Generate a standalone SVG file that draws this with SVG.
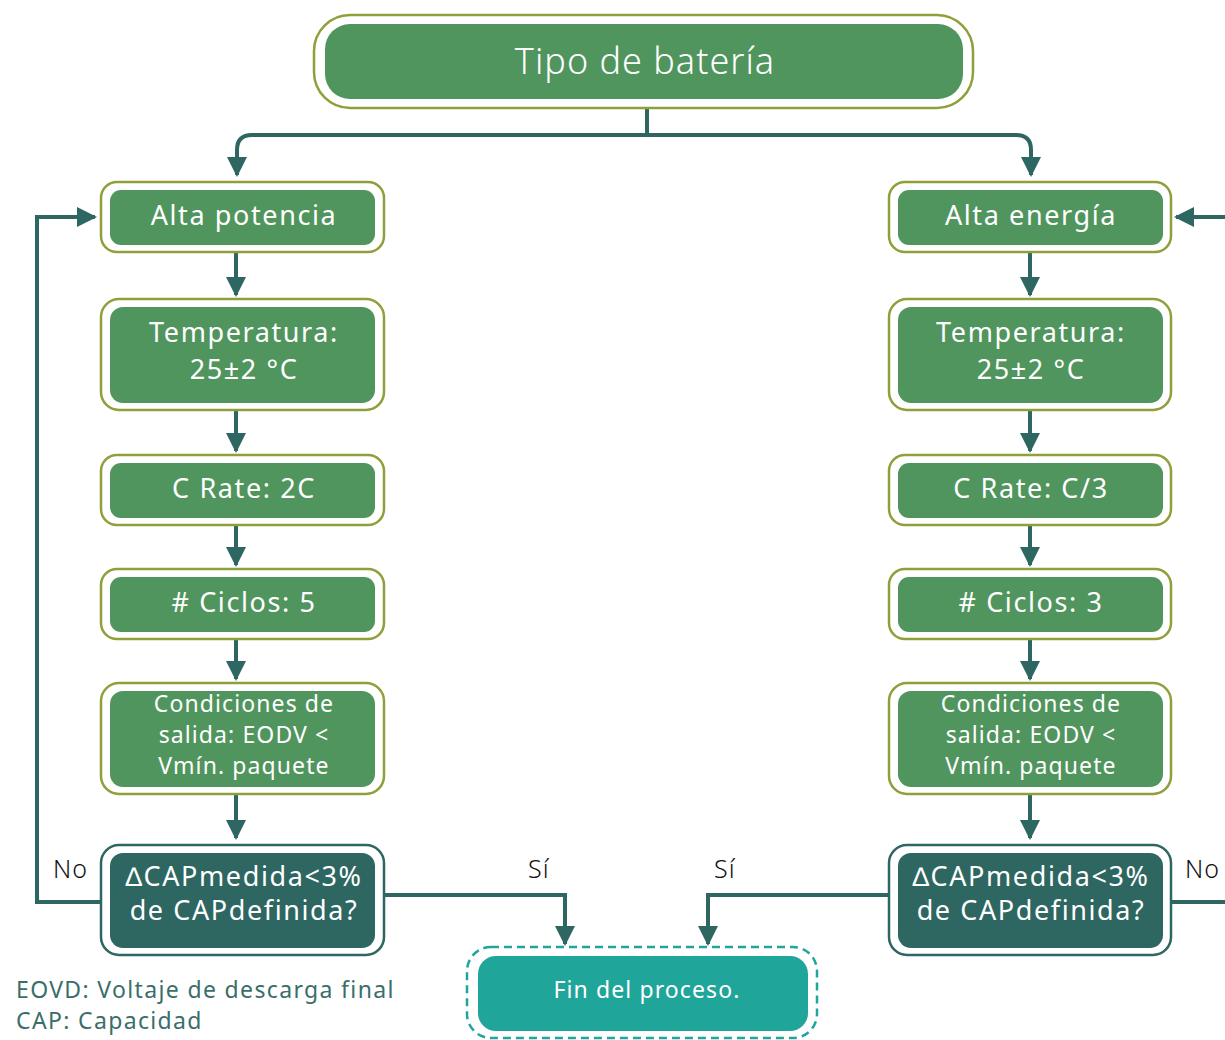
<svg xmlns="http://www.w3.org/2000/svg" width="1225" height="1040" viewBox="0 0 1225 1040">
<style>
.outer{fill:#fff;stroke:#8fa03a;stroke-width:2.5}
.inner{fill:#51955e}
.dout{fill:#fff;stroke:#2e6661;stroke-width:2.5}
.dinner{fill:#2e6661}
.t{font-family:"Noto Sans",sans-serif;fill:#fff;text-anchor:middle;letter-spacing:1.6px}
.s{letter-spacing:1.1px}
.lbl{font-family:"Noto Sans",sans-serif;fill:#111;font-size:25px;font-weight:300;letter-spacing:1px}
.leg{font-family:"Noto Sans",sans-serif;fill:#3a6e6a;font-size:23px;letter-spacing:1.35px}
.c{fill:none;stroke:#2e6661;stroke-width:4}
</style>
<defs>
<marker id="ah" viewBox="0 0 10 10" refX="9" refY="5" markerWidth="5" markerHeight="5" markerUnits="strokeWidth" orient="auto"><path d="M0,0 L10,5 L0,10 z" fill="#2e6661"/></marker>
</defs>
<rect width="1225" height="1040" fill="#fff"/>
<g id="connectors">
<path class="c" d="M647,108 V135"/>
<path class="c" d="M647,135 H252 Q237,135 237,150 V175" marker-end="url(#ah)"/>
<path class="c" d="M647,135 H1016 Q1031,135 1031,150 V175" marker-end="url(#ah)"/>
<path class="c" d="M236,253 V295" marker-end="url(#ah)"/>
<path class="c" d="M236,411 V451" marker-end="url(#ah)"/>
<path class="c" d="M236,526 V565" marker-end="url(#ah)"/>
<path class="c" d="M236,640 V679" marker-end="url(#ah)"/>
<path class="c" d="M236,795 V838" marker-end="url(#ah)"/>
<path class="c" d="M1030,253 V295" marker-end="url(#ah)"/>
<path class="c" d="M1030,411 V451" marker-end="url(#ah)"/>
<path class="c" d="M1030,526 V565" marker-end="url(#ah)"/>
<path class="c" d="M1030,640 V679" marker-end="url(#ah)"/>
<path class="c" d="M1030,795 V838" marker-end="url(#ah)"/>
<path class="c" d="M101,902 H37 V217 H95" marker-end="url(#ah)"/>
<path class="c" d="M1171,902 H1230"/>
<path class="c" d="M1230,217 H1176" marker-end="url(#ah)"/>
<path class="c" d="M384,895 H565 V944" marker-end="url(#ah)"/>
<path class="c" d="M889,895 H708 V944" marker-end="url(#ah)"/>
</g>
<g id="n-tipo">
<rect class="outer" x="314" y="15" width="659" height="93" rx="36"/>
<rect class="inner" x="325" y="24" width="638" height="75" rx="25"/>
<text class="t" x="645" y="74" font-size="36" font-weight="300" style="letter-spacing:1px">Tipo de batería</text>
</g>
<g id="n-alta-potencia">
<rect class="outer" x="101" y="182" width="283" height="70" rx="16"/>
<rect class="inner" x="110" y="190" width="265" height="55" rx="11"/>
<text class="t" x="244" y="225" font-size="27">Alta potencia</text>
</g>
<g id="n-temp-l">
<rect class="outer" x="101" y="299" width="283" height="111" rx="18"/>
<rect class="inner" x="110" y="307" width="265" height="96" rx="13"/>
<text class="t" x="244" y="342" font-size="27">Temperatura:</text>
<text class="t" x="244" y="379" font-size="27">25±2 °C</text>
</g>
<g id="n-crate-l">
<rect class="outer" x="101" y="455" width="283" height="70" rx="16"/>
<rect class="inner" x="110" y="463" width="265" height="55" rx="11"/>
<text class="t" x="244" y="498" font-size="27">C Rate: 2C</text>
</g>
<g id="n-ciclos-l">
<rect class="outer" x="101" y="569" width="283" height="70" rx="16"/>
<rect class="inner" x="110" y="577" width="265" height="55" rx="11"/>
<text class="t" x="244" y="612" font-size="27"># Ciclos: 5</text>
</g>
<g id="n-cond-l">
<rect class="outer" x="101" y="683" width="283" height="111" rx="18"/>
<rect class="inner" x="110" y="691" width="265" height="96" rx="13"/>
<text class="t s" x="244" y="712" font-size="23">Condiciones de</text>
<text class="t s" x="244" y="743" font-size="23">salida: EODV &lt;</text>
<text class="t s" x="244" y="774" font-size="23">Vmín. paquete</text>
</g>
<g id="n-dec-l">
<rect class="dout" x="101" y="845" width="283" height="110" rx="18"/>
<rect class="dinner" x="110" y="853" width="265" height="95" rx="13"/>
<text class="t" x="244" y="886" font-size="27">∆CAPmedida&lt;3%</text>
<text class="t" x="244" y="920" font-size="27">de CAPdefinida?</text>
</g>
<g id="n-alta-energia">
<rect class="outer" x="889" y="182" width="282" height="70" rx="16"/>
<rect class="inner" x="898" y="190" width="265" height="55" rx="11"/>
<text class="t" x="1031" y="225" font-size="27">Alta energía</text>
</g>
<g id="n-temp-r">
<rect class="outer" x="889" y="299" width="282" height="111" rx="18"/>
<rect class="inner" x="898" y="307" width="265" height="96" rx="13"/>
<text class="t" x="1031" y="342" font-size="27">Temperatura:</text>
<text class="t" x="1031" y="379" font-size="27">25±2 °C</text>
</g>
<g id="n-crate-r">
<rect class="outer" x="889" y="455" width="282" height="70" rx="16"/>
<rect class="inner" x="898" y="463" width="265" height="55" rx="11"/>
<text class="t" x="1031" y="498" font-size="27">C Rate: C/3</text>
</g>
<g id="n-ciclos-r">
<rect class="outer" x="889" y="569" width="282" height="70" rx="16"/>
<rect class="inner" x="898" y="577" width="265" height="55" rx="11"/>
<text class="t" x="1031" y="612" font-size="27"># Ciclos: 3</text>
</g>
<g id="n-cond-r">
<rect class="outer" x="889" y="683" width="282" height="111" rx="18"/>
<rect class="inner" x="898" y="691" width="265" height="96" rx="13"/>
<text class="t s" x="1031" y="712" font-size="23">Condiciones de</text>
<text class="t s" x="1031" y="743" font-size="23">salida: EODV &lt;</text>
<text class="t s" x="1031" y="774" font-size="23">Vmín. paquete</text>
</g>
<g id="n-dec-r">
<rect class="dout" x="889" y="845" width="282" height="110" rx="18"/>
<rect class="dinner" x="898" y="853" width="265" height="95" rx="13"/>
<text class="t" x="1031" y="886" font-size="27">∆CAPmedida&lt;3%</text>
<text class="t" x="1031" y="920" font-size="27">de CAPdefinida?</text>
</g>
<g id="n-fin">
<rect x="467" y="947" width="350" height="91" rx="24" fill="#fff" stroke="#20a59a" stroke-width="2.5" stroke-dasharray="8,5"/>
<rect x="478" y="956" width="330" height="75" rx="18" fill="#20a59a"/>
<text class="t s" x="647" y="998" font-size="23">Fin del proceso.</text>
</g>
<g id="labels">
<text class="lbl" x="53" y="878">No</text>
<text class="lbl" x="528" y="878">Sí</text>
<text class="lbl" x="714" y="878">Sí</text>
<text class="lbl" x="1185" y="878">No</text>
<text class="leg" x="16" y="998">EOVD: Voltaje de descarga final</text>
<text class="leg" x="16" y="1029">CAP: Capacidad</text>
</g>
</svg>
